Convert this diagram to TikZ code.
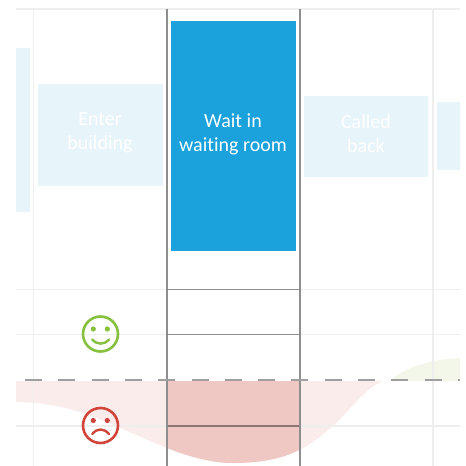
\documentclass[tikz,border=0pt]{standalone}
\usepackage{fontspec}
\setmainfont[Ligatures=NoCommon]{Carlito}
\definecolor{stepblue}{HTML}{1BA1DC}
\definecolor{fadeblue}{HTML}{E7F4FA}
\definecolor{fadepink}{HTML}{FAECEB}
\definecolor{strongpink}{HTML}{EFC8C4}
\definecolor{fadegreen}{HTML}{F2F7EA}
\definecolor{grid}{HTML}{EEEEEE}
\definecolor{gridstrong}{HTML}{8E8E8E}
\definecolor{griddark}{HTML}{8F7573}
\definecolor{smile}{HTML}{85C03F}
\definecolor{frown}{HTML}{D2453A}
\tikzset{
  gridline/.style={draw=grid,line width=1.4pt},
  strongline/.style={draw=gridstrong,line width=1.4pt},
  stepbox/.style={anchor=north west,inner sep=0pt,outer sep=0pt,align=center,font=\fontsize{20pt}{24pt}\selectfont,text=white}
}
\begin{document}
\begin{tikzpicture}[x=1pt,y=-1pt]
\useasboundingbox (0,0) rectangle (466,466);
\fill[white] (0,0) rectangle (466,466);
% curve fills
\fill[fadegreen] (390,381) .. controls (403,369) and (425,360) .. (460,358) -- (460,381) -- cycle;
\fill[fadepink] (16,381) -- (16,402) .. controls (75,402) and (110,425) .. (167,448) .. controls (200,461) and (220,463) .. (233,463) .. controls (290,463) and (310,445) .. (333,426) .. controls (352,408) and (365,388) .. (383,381) -- cycle;
\begin{scope}
\clip (167,370) rectangle (300,466);
\fill[strongpink] (16,381) -- (16,402) .. controls (75,402) and (110,425) .. (167,448) .. controls (200,461) and (220,463) .. (233,463) .. controls (290,463) and (310,445) .. (333,426) .. controls (352,408) and (365,388) .. (383,381) -- cycle;
\end{scope}
% faint grid
\draw[gridline] (16,9) -- (460,9);
\foreach \yy in {289.5,334.5,426} \draw[gridline] (16,\yy) -- (460,\yy);
\draw[gridline] (33.5,9) -- (33.5,466);
\draw[gridline] (433,9) -- (433,466);
% strong column
\foreach \yy in {289.5,334.5} \draw[strongline] (167,\yy) -- (300,\yy);
\draw[strongline,draw=griddark] (167,426) -- (300,426);
\draw[strongline] (167,9) -- (167,466);
\draw[strongline] (300,9) -- (300,466);
% baseline
\draw[draw=gridstrong!85!white,line width=1.4pt,dash pattern=on 17pt off 16.3pt] (25,380) -- (460,380);
% boxes
\node[stepbox,fill=fadeblue,minimum width=14pt,minimum height=164pt] (far) at (16,48) {};
\node[stepbox,fill=fadeblue,minimum width=125pt,minimum height=102pt] (enter) at (38,84) {};
\node[stepbox,fill=stepblue,minimum width=125pt,minimum height=230pt] (wait) at (171,21) {};
\node[stepbox,fill=fadeblue,minimum width=124pt,minimum height=81pt] (called) at (304,96) {};
\node[stepbox,fill=fadeblue,minimum width=23pt,minimum height=68pt] (next) at (437,102) {};
\node[stepbox,anchor=center] (entertext) at (100,133) {Enter\\building};
\node[stepbox,anchor=center] (waittext) at (233,134) {Wait in\\waiting room};
\node[stepbox,anchor=center] (calledtext) at (366,134) {Called\\back};
% faces
\node[circle,draw=smile,line width=2.6pt,minimum size=35pt,inner sep=0pt] (happy) at (100.5,334) {};
\fill[smile] (93.3,329) circle (2.6pt) (107.3,329) circle (2.6pt);
\draw[smile,line width=2.4pt,line cap=round] (92.3,339.5) .. controls (97,345) and (104,345) .. (109,339.5);
\node[circle,draw=frown,line width=2.6pt,minimum size=35pt,inner sep=0pt] (sad) at (100.5,425.5) {};
\fill[frown] (93.3,420.5) circle (2.6pt) (107.3,420.5) circle (2.6pt);
\draw[frown,line width=2.4pt,line cap=round] (92.3,434) .. controls (97,428) and (104,428) .. (109,434);
\end{tikzpicture}
\end{document}
